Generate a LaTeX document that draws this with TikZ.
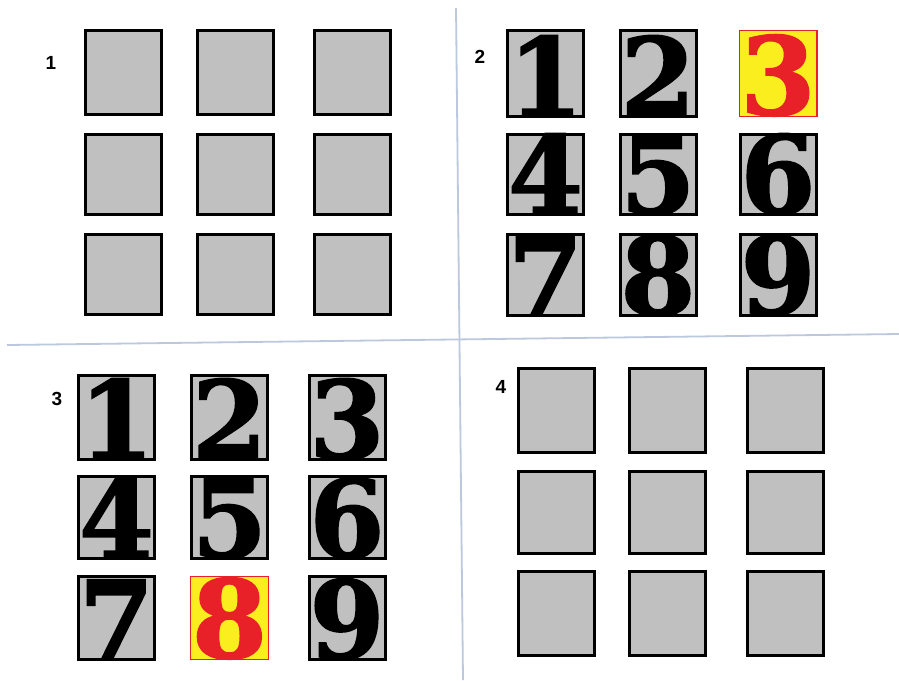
\documentclass[tikz,border=0pt]{standalone}
\usepackage{fontspec}
\newfontfamily\digitfont[BoldFeatures={FakeBold=1.5}]{DejaVu Serif}
\newfontfamily\labelfont{Liberation Sans}
\usetikzlibrary{positioning}
\definecolor{cardgray}{RGB}{192,192,192}
\definecolor{hiyellow}{RGB}{250,238,30}
\definecolor{hired}{RGB}{232,32,40}
\definecolor{splitblue}{RGB}{188,200,222}
\tikzset{
  card/.style={draw=black,line width=3pt,fill=cardgray,inner sep=0pt,minimum width=76pt},
  hicard/.style={draw=hired,line width=1.4pt,fill=hiyellow,inner sep=0pt,minimum width=77.6pt},
  digit/.style={font=\digitfont\bfseries\fontsize{108}{108}\selectfont,inner sep=0pt,anchor=base},
  panellabel/.style={font=\labelfont\bfseries\fontsize{19}{19}\selectfont,inner sep=0pt},
  split/.style={draw=splitblue,line width=1.8pt}
}

\begin{document}
\begin{tikzpicture}[x=1pt,y=-1pt]
\useasboundingbox (0,0) rectangle (899,680);
% Quadrant dividers.
\coordinate (vtop) at (456,8);
\coordinate (vbot) at (463,680);
\coordinate (hleft) at (7,345);
\coordinate (hright) at (899,334);
\draw[split] (vtop) -- (vbot);
\draw[split] (hleft) -- (hright);
% Panel labels.
\node[panellabel] (lab1) at (51,63) {1};
\node[panellabel] (lab2) at (480,57) {2};
\node[panellabel] (lab3) at (57,399) {3};
\node[panellabel] (lab4) at (501,387) {4};
% Panel 1: blank cards.
\foreach \c/\x in {1/123.5,2/235,3/352}{
  \foreach \r/\y/\h in {1/72.5/87,2/174.5/83,3/274.5/83}{
    \node[card,minimum height={\h-3}] (a\r\c) at (\x,\y) {};
  }
}
% Panel 2: numbered cards, 3 marked.
\foreach \c/\x in {1/545.5,2/658,3/778}{
  \foreach \r/\y/\h in {1/73.5/89,2/174.5/83,3/275/84}{
    \pgfmathtruncatemacro\n{3*(\r-1)+\c}
    \ifnum\n=3 \def\kind{hicard}\def\ink{hired}\else\def\kind{card}\def\ink{black}\fi
    \node[\kind,minimum height={\h-3}] (b\n) at (\x,\y) {};
    \node[digit,text=\ink] (bd\n) at ([yshift=2.5pt]b\n.south) {\n};
  }
}
% Panel 3: numbered cards, 8 marked.
\foreach \c/\x in {1/116.5,2/229.5,3/347}{
  \foreach \r/\y/\h in {1/417.5/87,2/517.5/85,3/618/86}{
    \pgfmathtruncatemacro\n{3*(\r-1)+\c}
    \ifnum\n=8 \def\kind{hicard}\def\ink{hired}\else\def\kind{card}\def\ink{black}\fi
    \node[\kind,minimum height={\h-3}] (c\n) at (\x,\y) {};
    \node[digit,text=\ink] (cd\n) at ([yshift=2.5pt]c\n.south) {\n};
  }
}
% Panel 4: blank cards.
\foreach \c/\x in {1/556.5,2/667.5,3/785}{
  \foreach \r/\y/\h in {1/410.5/87,2/512.5/85,3/613.5/87}{
    \node[card,minimum height={\h-3}] (d\r\c) at (\x,\y) {};
  }
}
\end{tikzpicture}
\end{document}
